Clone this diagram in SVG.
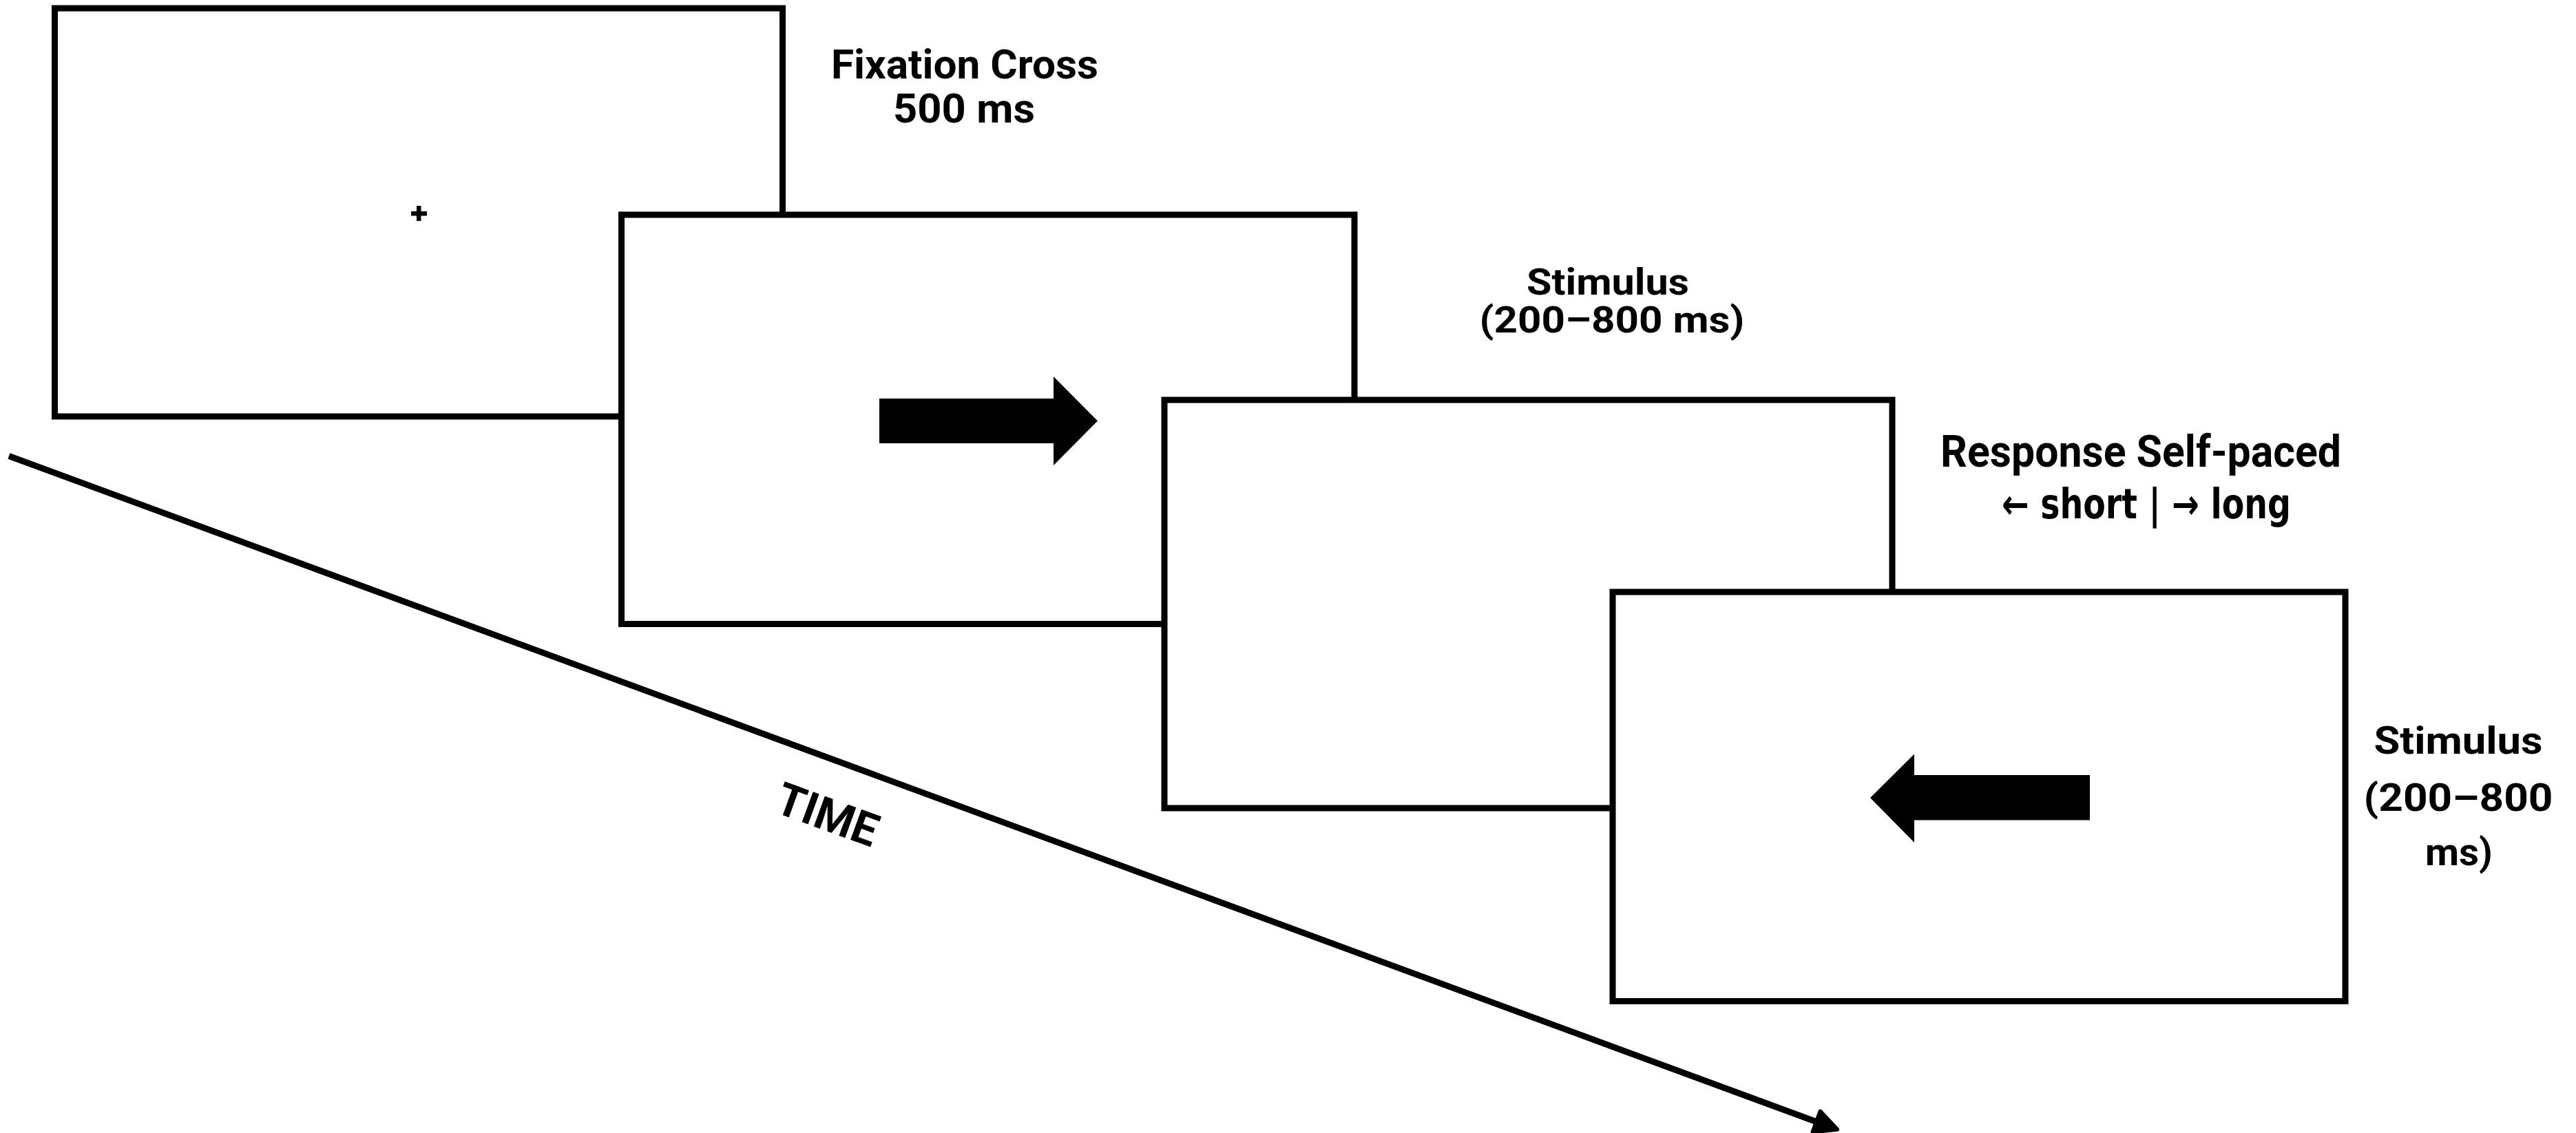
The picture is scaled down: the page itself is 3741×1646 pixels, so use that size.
<svg xmlns="http://www.w3.org/2000/svg" width="3741" height="1646" viewBox="0 0 3741 1646">
  <style>
    .screen { fill: #ffffff; stroke: #000000; stroke-width: 9; }
    .glyph { fill: #000000; }
    .lbl { font-family: Roboto, "Liberation Sans", Arial, sans-serif; font-weight: 700; fill: #000000; text-anchor: middle; }
    .sym { font-family: "DejaVu Sans", sans-serif; font-weight: 700; }
    .axis { stroke: #000000; stroke-width: 9; fill: none; }
    .head { fill: #000000; stroke: #000000; stroke-width: 6; stroke-linejoin: round; }
  </style>
  <rect width="3741" height="1646" fill="#ffffff"/>

  <g id="connectors">
    <line class="axis" x1="13" y1="662.5" x2="2640" y2="1630.5"/>
    <polygon class="head" points="2668,1640.7 2632.5,1644.6 2643.5,1614.6"/>
    <text class="lbl" font-size="66" textLength="152" lengthAdjust="spacingAndGlyphs" transform="translate(1194,1205) rotate(20)" x="0" y="0">TIME</text>
  </g>

  <g id="screen-fixation">
    <rect class="screen" x="79.5" y="12" width="1057" height="593"/>
    <rect class="glyph" x="597" y="307" width="23" height="6.5"/>
    <rect class="glyph" x="605" y="299" width="6.5" height="22"/>
    <text class="lbl" font-size="59" x="1401" y="114" textLength="388" lengthAdjust="spacingAndGlyphs">Fixation Cross</text>
    <text class="lbl" font-size="59" x="1400" y="178" textLength="206" lengthAdjust="spacingAndGlyphs">500 ms</text>
  </g>

  <g id="screen-stimulus-right">
    <rect class="screen" x="902.5" y="312" width="1064.5" height="594.5"/>
    <polygon class="glyph" points="1277,579 1530,579 1530,547 1594,611.5 1530,676 1530,644 1277,644"/>
    <text class="lbl" font-size="53" x="2335" y="428" textLength="236" lengthAdjust="spacingAndGlyphs">Stimulus</text>
    <text class="lbl" font-size="53" x="2341" y="483" textLength="385" lengthAdjust="spacingAndGlyphs">(200–800 ms)</text>
  </g>

  <g id="screen-response">
    <rect class="screen" x="1691" y="581" width="1057" height="593"/>
    <text class="lbl" font-size="65" x="3109" y="678" textLength="582" lengthAdjust="spacingAndGlyphs">Response Self-paced</text>
    <text class="lbl sym" font-size="60" x="3117" y="753" textLength="420" lengthAdjust="spacingAndGlyphs">← short | → long</text>
  </g>

  <g id="screen-stimulus-left">
    <rect class="screen" x="2342" y="860" width="1064" height="594.5"/>
    <polygon class="glyph" points="3035,1126 2780,1126 2780,1095.5 2716,1159 2780,1224 2780,1191.5 3035,1191.5"/>
    <text class="lbl" font-size="55" x="3570" y="1095" textLength="245" lengthAdjust="spacingAndGlyphs">Stimulus</text>
    <text class="lbl" font-size="55" x="3570" y="1178" textLength="275" lengthAdjust="spacingAndGlyphs">(200–800</text>
    <text class="lbl" font-size="55" x="3571" y="1257" textLength="98" lengthAdjust="spacingAndGlyphs">ms)</text>
  </g>
</svg>
